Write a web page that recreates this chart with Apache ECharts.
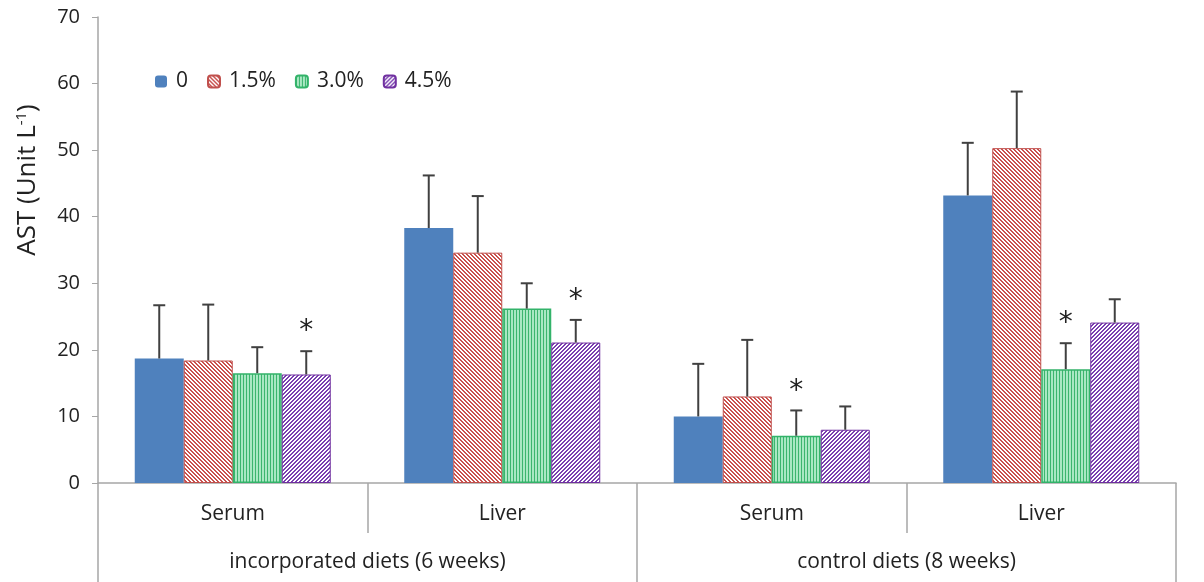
<!DOCTYPE html>
<html>
<head>
<meta charset="utf-8">
<script src="https://cdn.jsdelivr.net/npm/echarts@6/dist/echarts.min.js"></script>
<style>
  html, body { margin: 0; padding: 0; background: #fff; }
  #chart { width: 1204px; height: 582px; }
</style>
</head>
<body>
<div id="chart"></div>
<script>
// categories and groups on the x axis
const categories = ['Serum', 'Liver', 'Serum', 'Liver'];
const groups = ['incorporated diets (6 weeks)', 'control diets (8 weeks)'];
const levels = ['0', '1.5%', '3.0%', '4.5%'];
const yTicks = [0, 10, 20, 30, 40, 50, 60, 70];

// AST means
const ast0 = [18.7, 38.3, 10.0, 43.2];
const ast15 = [18.4, 34.6, 13.0, 50.3];
const ast30 = [16.5, 26.2, 7.1, 17.1];
const ast45 = [16.3, 21.1, 8.0, 24.1];

// standard deviations (upper error bars)
const err0 = [8.0, 7.9, 7.9, 7.9];
const err15 = [8.4, 8.5, 8.5, 8.5];
const err30 = [3.9, 3.8, 3.8, 3.9];
const err45 = [3.5, 3.4, 3.5, 3.5];

// significance marks (*)
const sig0 = [false, false, false, false];
const sig15 = [false, false, false, false];
const sig30 = [false, false, true, true];
const sig45 = [true, true, false, false];

function makePattern(type, fg, bg) {
    const size = type === 'vertical' ? 3 : 4;
    const c = document.createElement('canvas');
    c.width = size; c.height = size;
    const ctx = c.getContext('2d');
    ctx.fillStyle = bg;
    ctx.fillRect(0, 0, size, size);
    ctx.fillStyle = fg;
    for (let x = 0; x < size; x++) {
        for (let y = 0; y < size; y++) {
            let on = false;
            if (type === 'down') on = ((x - y + size) % size) < 2;
            if (type === 'up') on = ((x + y) % size) < 2;
            if (type === 'vertical') on = x === 0;
            if (on) ctx.fillRect(x, y, 1, 1);
        }
    }
    return { image: c, repeat: 'repeat' };
}

const barWidth = 49;
const styles = [
    { color: '#4f81bd', borderColor: '#4f81bd', borderWidth: 0 },
    { color: makePattern('down', '#c9504d', '#ffffff'), borderColor: '#c0504d', borderWidth: 1 },
    { color: makePattern('vertical', '#3cb56e', '#a9e8c3'), borderColor: '#33b36a', borderWidth: 1.5 },
    { color: makePattern('up', '#7a3fb0', '#ffffff'), borderColor: '#7030a0', borderWidth: 1 }
];

const means = [ast0, ast15, ast30, ast45];
const errs = [err0, err15, err30, err45];
const sigs = [sig0, sig15, sig30, sig45];

const series = [];
levels.forEach(function (name, k) {
    series.push({
        name: name,
        type: 'bar',
        barWidth: barWidth,
        barGap: '0%',
        itemStyle: styles[k],
        data: means[k]
    });
});
levels.forEach(function (name, k) {
    series.push({
        name: 'err' + k,
        type: 'custom',
        z: 5,
        data: means[k].map(function (v, i) { return [i, v, errs[k][i], sigs[k][i] ? 1 : 0]; }),
        renderItem: function (params, api) {
            const base = api.coord([api.value(0), api.value(1)]);
            const top = api.coord([api.value(0), api.value(1) + api.value(2)]);
            const x = base[0] + (k - 1.5) * barWidth;
            const children = [
                { type: 'line', shape: { x1: x, y1: base[1], x2: x, y2: top[1] }, style: { stroke: '#404040', lineWidth: 2 } },
                { type: 'line', shape: { x1: x - 6, y1: top[1], x2: x + 6, y2: top[1] }, style: { stroke: '#404040', lineWidth: 2 } }
            ];
            if (api.value(3)) {
                children.push({
                    type: 'text',
                    style: { text: '*', x: x, y: top[1] - 5, align: 'center', verticalAlign: 'bottom', fontSize: 28, fontFamily: 'DejaVu Sans', fill: '#222' }
                });
            }
            return { type: 'group', children: children };
        }
    });
});

const chart = echarts.init(document.getElementById('chart'));
const option = {
    animation: false,
    backgroundColor: '#fff',
    grid: { left: 98, right: 28, top: 17, bottom: 99 },
    legend: {
        data: levels,
        left: 150,
        top: 66,
        itemWidth: 12,
        itemHeight: 12,
        itemGap: 19,
        textStyle: { fontSize: 21, fontFamily: 'Open Sans', color: '#222', padding: [0, 0, 0, 4] }
    },
    xAxis: [
        {
            type: 'category',
            data: categories,
            axisLine: { lineStyle: { color: '#a6a6a6', width: 1.5 } },
            axisTick: { show: true, length: 50, interval: 0, lineStyle: { color: '#a6a6a6', width: 1.5 } },
            axisLabel: { fontSize: 21, fontFamily: 'Open Sans', color: '#222', margin: 21, interval: 0 }
        },
        {
            type: 'category',
            data: groups,
            position: 'bottom',
            offset: 50,
            axisLine: { show: false },
            axisTick: { show: true, length: 50, interval: 0, lineStyle: { color: '#a6a6a6', width: 1.5 } },
            axisLabel: { fontSize: 21, fontFamily: 'Open Sans', color: '#222', margin: 19, interval: 0 }
        }
    ],
    yAxis: {
        type: 'value',
        min: yTicks[0],
        max: yTicks[yTicks.length - 1],
        interval: 10,
        splitLine: { show: false },
        axisLine: { show: true, lineStyle: { color: '#a6a6a6', width: 1.5 } },
        axisTick: { show: true, length: 6, lineStyle: { color: '#a6a6a6' } },
        axisLabel: { fontSize: 20, fontFamily: 'Open Sans', color: '#222', margin: 18 }
    },
    graphic: [{
        type: 'text',
        x: 28,
        y: 180,
        rotation: Math.PI / 2,
        style: {
            text: '{a|AST (Unit L}{s|-1}{a|)}',
            align: 'center',
            verticalAlign: 'middle',
            rich: {
                a: { fontSize: 26, fontFamily: 'Open Sans', fill: '#222', color: '#222' },
                s: { fontSize: 15, fontFamily: 'Open Sans', fill: '#222', color: '#222', padding: [0, 0, 12, 0] }
            }
        }
    }],
    series: series
};
chart.setOption(option);
</script>
</body>
</html>
